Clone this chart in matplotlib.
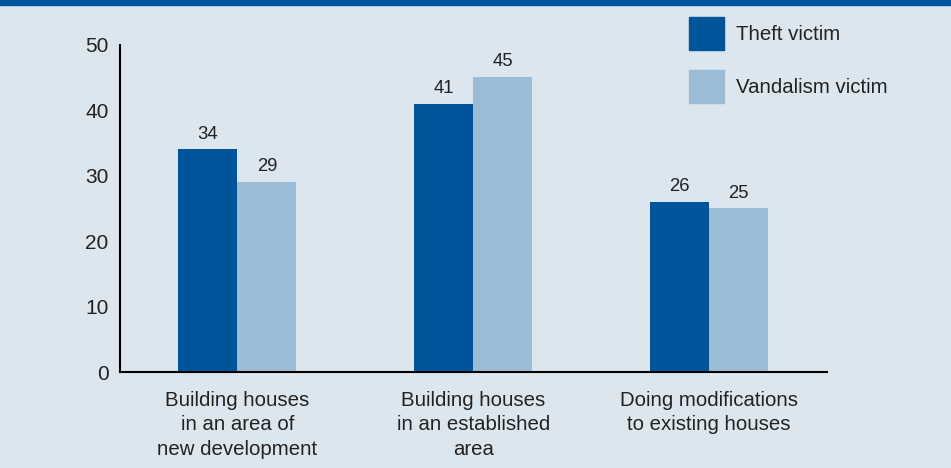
import numpy as np
import matplotlib.pyplot as plt
from matplotlib.patches import Patch, Rectangle

# Survey data: share of respondents (%) by type of building work
categories = ['Building houses\nin an area of\nnew development',
              'Building houses\nin an established\narea',
              'Doing modifications\nto existing houses']
theft = [34, 41, 26]
vandalism = [29, 45, 25]
series_names = ['Theft victim', 'Vandalism victim']
yticks = [0, 10, 20, 30, 40, 50]

dark = '#00559a'
light = '#9bbcd7'
bg = '#dbe6ef'
txt = '#222222'

plt.rcParams['font.family'] = ['Liberation Sans', 'DejaVu Sans']

fig = plt.figure(figsize=(9.51, 4.68), dpi=100, facecolor=bg)
ax = fig.add_axes([0.1257, 0.2041, 0.7439, 0.7008])
ax.set_facecolor(bg)

# dark strip along the top edge
fig.patches.append(Rectangle((0, 0.99), 1, 0.01, transform=fig.transFigure,
                             color=dark, zorder=0))

x = np.arange(len(categories))
w = 0.25
b1 = ax.bar(x - w / 2, theft, w, color=dark)
b2 = ax.bar(x + w / 2, vandalism, w, color=light)

for bars, vals in [(b1, theft), (b2, vandalism)]:
    for b, v in zip(bars, vals):
        ax.text(b.get_x() + b.get_width() / 2, v + 1.05, str(v),
                ha='center', va='bottom', fontsize=13.3, color=txt)

ax.set_xlim(-0.5, 2.5)
ax.set_ylim(0, 50)
ax.set_yticks(yticks)
ax.set_xticks(x)
ax.set_xticklabels(categories, fontsize=14.7, color=txt, linespacing=1.38)
ax.tick_params(axis='both', length=0, colors=txt)
ax.tick_params(axis='y', pad=8, labelsize=15)
ax.tick_params(axis='x', pad=13)

for s in ['top', 'right']:
    ax.spines[s].set_visible(False)
for s in ['left', 'bottom']:
    ax.spines[s].set_linewidth(1.5)
    ax.spines[s].set_color('black')

handles = [Patch(color=dark), Patch(color=light)]
fig.legend(handles, series_names, loc='upper left',
           bbox_to_anchor=(0.7245, 0.964), frameon=False, fontsize=14.7,
           handlelength=1.7, handleheight=2.1, labelspacing=1.0,
           handletextpad=0.6, borderpad=0, borderaxespad=0,
           labelcolor=txt)

fig.savefig('out.png', dpi=100, facecolor=bg)
